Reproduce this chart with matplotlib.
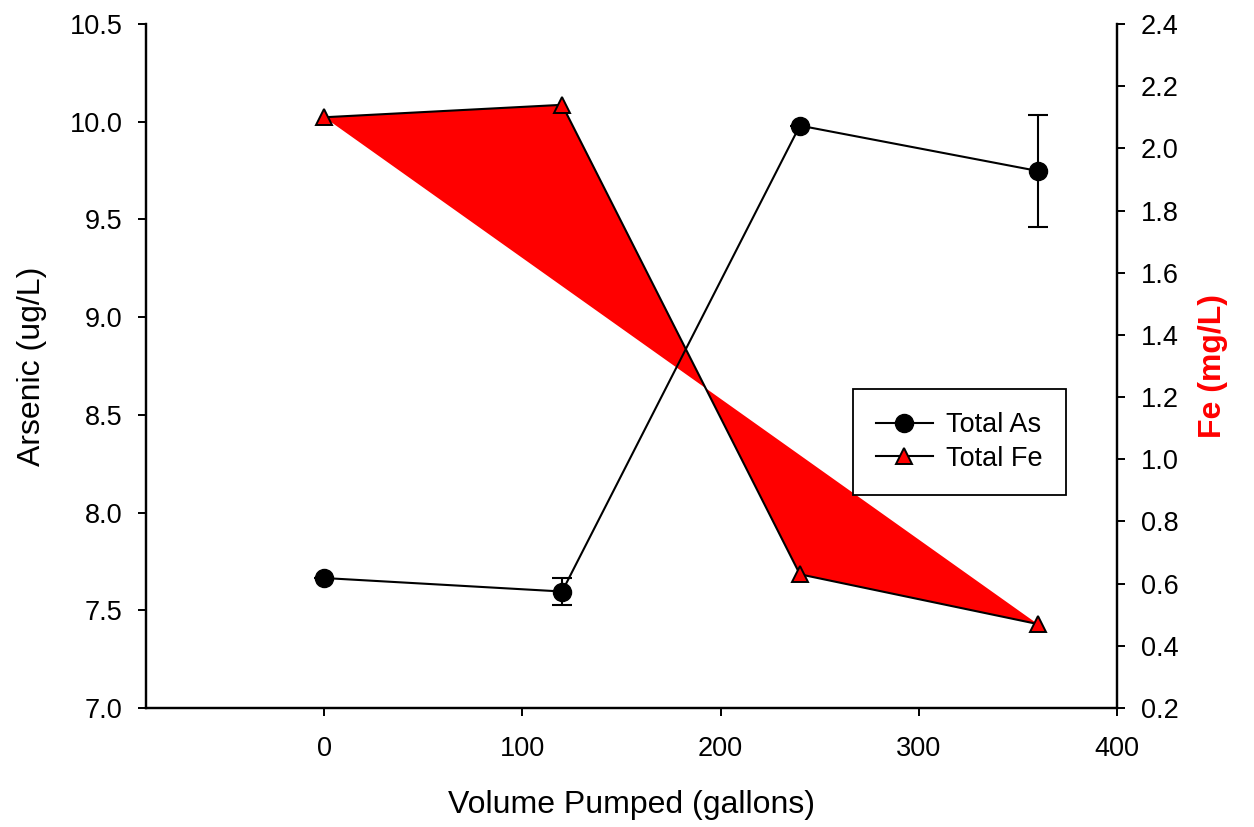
import matplotlib.pyplot as plt
from matplotlib.lines import Line2D

plt.rcParams['font.family'] = ['Liberation Sans', 'DejaVu Sans']

# Data
volume = [0, 120, 240, 360]
arsenic = [7.665, 7.596, 9.98, 9.748]
arsenic_err = [0.0, 0.067, 0.0, 0.287]
iron = [2.10, 2.14, 0.63, 0.47]

x_ticks = [0, 100, 200, 300, 400]
left_ticks = [7.0, 7.5, 8.0, 8.5, 9.0, 9.5, 10.0, 10.5]
right_ticks = [0.2, 0.4, 0.6, 0.8, 1.0, 1.2, 1.4, 1.6, 1.8, 2.0, 2.2, 2.4]

fig = plt.figure(figsize=(12.54, 8.27), dpi=100)
ax = fig.add_axes([0.1164, 0.1439, 0.7743, 0.8271])
ax2 = ax.twinx()

# Fe on the right axis: filled polygon plus line with triangles
ax2.fill(volume, iron, color='red', linewidth=0)
ax2.plot(volume, iron, color='black', linewidth=1.5, marker='^',
         markersize=11, markerfacecolor='red', markeredgecolor='black',
         markeredgewidth=1.4)

# As on the left axis, drawn above the red fill
ax.set_zorder(ax2.get_zorder() + 1)
ax.patch.set_visible(False)
ax.errorbar(volume, arsenic, yerr=arsenic_err, color='black', linewidth=1.5,
            marker='o', markersize=13, capsize=7, elinewidth=1.5,
            capthick=1.5)

ax.set_xlim(-90, 400)
ax.set_ylim(7.0, 10.5)
ax2.set_ylim(0.2, 2.4)
ax.set_xticks(x_ticks)
ax.set_yticks(left_ticks)
ax.set_yticklabels(['%.1f' % v for v in left_ticks])
ax2.set_yticks(right_ticks)
ax2.set_yticklabels(['%.1f' % v for v in right_ticks])

for a in (ax, ax2):
    a.spines['top'].set_visible(False)
    for s in a.spines.values():
        s.set_linewidth(1.6)
    a.tick_params(direction='out', length=6, width=1.4, labelsize=19.5, pad=11)
ax.tick_params(axis='x', pad=14)

ax.set_xlabel('Volume Pumped (gallons)', fontsize=23, labelpad=20)
ax.set_ylabel('Arsenic (ug/L)', fontsize=23, labelpad=16)
ax2.set_ylabel('Fe (mg/L)', fontsize=23, color='red', fontweight='bold',
               labelpad=14)

handles = [
    Line2D([], [], color='black', linewidth=1.5, marker='o', markersize=13),
    Line2D([], [], color='black', linewidth=1.5, marker='^', markersize=11,
           markerfacecolor='red', markeredgecolor='black', markeredgewidth=1.4),
]
leg = ax.legend(handles, ['Total As', 'Total Fe'], loc='upper left',
                bbox_to_anchor=(0.728, 0.466), borderaxespad=0, fontsize=19.5,
                fancybox=False, edgecolor='black', framealpha=1,
                handlelength=2.1, handletextpad=0.5, borderpad=0.85,
                labelspacing=0.28)
leg.get_frame().set_linewidth(1.3)

fig.savefig('out.png', dpi=100)
